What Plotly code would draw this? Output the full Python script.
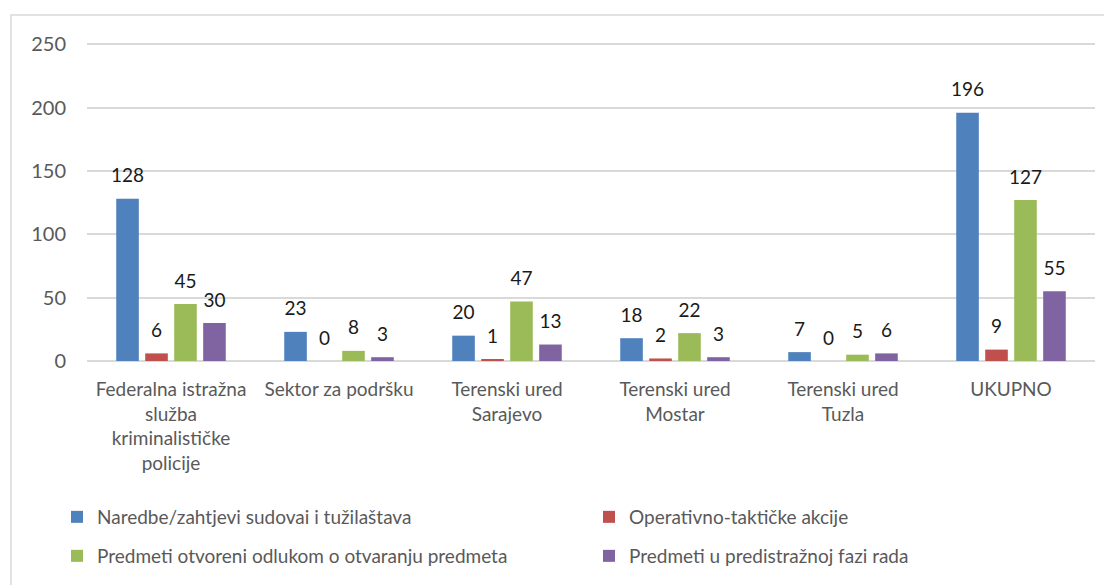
import plotly.graph_objects as go

categories = [
    "Federalna istražna<br>služba<br>kriminalističke<br>policije",
    "Sektor za podršku",
    "Terenski ured<br>Sarajevo",
    "Terenski ured<br>Mostar",
    "Terenski ured<br>Tuzla",
    "UKUPNO",
]
series_names = [
    "Naredbe/zahtjevi sudovai i tužilaštava",
    "Operativno-taktičke akcije",
    "Predmeti otvoreni odlukom o otvaranju predmeta",
    "Predmeti u predistražnoj fazi rada",
]
naredbe = [128, 23, 20, 18, 7, 196]
operativno = [6, 0, 1, 2, 0, 9]
otvoreni = [45, 8, 47, 22, 5, 127]
predistrazni = [30, 3, 13, 3, 6, 55]
y_ticks = [0, 50, 100, 150, 200, 250]

series_values = [naredbe, operativno, otvoreni, predistrazni]
colors = ["#4F81BD", "#C0504D", "#9BBB59", "#8064A2"]
legend_ids = ["legend", "legend2", "legend3", "legend4"]

FONT = "Lato, 'Liberation Sans', sans-serif"

fig = go.Figure()
for name, vals, col, lg in zip(series_names, series_values, colors, legend_ids):
    fig.add_trace(go.Bar(
        x=categories, y=vals, name=name, marker=dict(color=col, line=dict(width=0)),
        legend=lg, hoverinfo="skip",
    ))
for name, vals in zip(series_names, series_values):
    fig.add_trace(go.Scatter(
        x=categories, y=vals, mode="markers+text", text=[str(v) for v in vals],
        textposition="top center", showlegend=False, cliponaxis=False,
        marker=dict(size=17, color="rgba(0,0,0,0)"),
        textfont=dict(family=FONT, size=19, color="#1a1a1a"), hoverinfo="skip",
    ))

def leg(x, y):
    return dict(
        orientation="h", x=x, xanchor="left", y=y, yanchor="middle",
        font=dict(family=FONT, size=19, color="#595959"),
        bgcolor="rgba(0,0,0,0)", itemwidth=30,
    )

# plot area (page px): left 87, right 1095, bottom 361, height 318
PH = 318.0
PW = 1008.0
row1 = (361 - 517) / PH
row2 = (361 - 556) / PH
col1 = (57 - 87) / PW
col2 = (589 - 87) / PW

fig.update_layout(
    width=1112, height=585,
    margin=dict(l=79, r=25, t=35, b=232),
    paper_bgcolor="white", plot_bgcolor="white",
    barmode="group", bargap=0.31, bargroupgap=0.22, scattermode="group",
    font=dict(family=FONT, color="#595959", size=19),
    xaxis=dict(
        showgrid=False, showline=False, zeroline=False, automargin=False,
        ticks="outside", ticklen=11, tickcolor="rgba(0,0,0,0)",
        tickfont=dict(family=FONT, size=19, color="#595959"),
    ),
    yaxis=dict(
        range=[0, 251], tickvals=y_ticks, showgrid=True, gridcolor="#D9D9D9", gridwidth=1.5,
        zeroline=True, zerolinecolor="#D9D9D9", zerolinewidth=1.5, showline=False,
        automargin=False, ticklabelstandoff=20,
        tickfont=dict(family=FONT, size=20, color="#595959"),
    ),
    legend=leg(col1, row1),
    legend2=leg(col2, row1),
    legend3=leg(col1, row2),
    legend4=leg(col2, row2),
    shapes=[dict(
        type="rect", xref="paper", yref="paper",
        x0=(11 - 87) / PW, x1=1.2, y0=-1.0, y1=(361 - 15) / PH,
        line=dict(color="#D9D9D9", width=1.5), fillcolor="rgba(0,0,0,0)", layer="below",
    )],
)

fig.write_html("out.html")
